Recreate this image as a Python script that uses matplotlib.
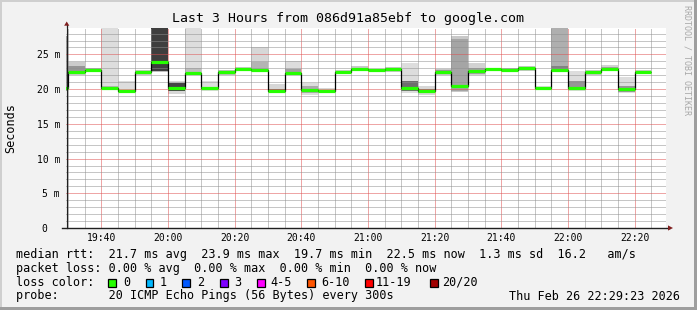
import numpy as np
import pandas as pd
import matplotlib
matplotlib.use("Agg")
import matplotlib.pyplot as plt
import matplotlib.dates as mdates
from matplotlib.ticker import MultipleLocator, FixedLocator
from matplotlib.patches import Rectangle, Polygon

# ---------------- data ----------------
title = "Last 3 Hours from 086d91a85ebf to google.com"
# bin end times (5 minute steps), first bin is only partly visible
bin_end_first = "2026-02-26 19:30"
n_bins = 36
median = [20.1, 22.5, 22.8, 20.2, 19.7, 22.4, 23.9, 20.2, 22.3, 20.1, 22.5, 22.9,
          22.8, 19.8, 22.3, 19.9, 19.8, 22.5, 22.9, 22.8, 22.9, 20.1, 19.8, 22.5,
          20.4, 22.6, 22.9, 22.8, 23.0, 20.1, 22.7, 20.2, 22.4, 22.9, 20.0, 22.5]
smoke_lo = [19.7, 22.1, 22.6, 19.9, 19.5, 22.0, 22.4, 19.3, 22.0, 19.8, 22.1, 22.7,
            22.5, 19.5, 22.0, 19.1, 19.5, 22.2, 22.6, 22.7, 22.5, 19.5, 19.2, 22.0,
            19.6, 22.0, 22.7, 22.7, 22.6, 19.9, 22.4, 19.8, 22.0, 22.6, 19.4, 22.2]
smoke_hi = [27.7, 23.9, 23.1, 28.8, 21.1, 22.8, 28.8, 21.1, 28.8, 21.2, 22.8, 23.2,
            26.0, 20.8, 24.0, 20.9, 20.2, 22.8, 23.3, 22.9, 23.2, 23.7, 20.4, 22.9,
            27.6, 23.8, 23.0, 23.0, 23.4, 20.5, 28.8, 22.6, 22.8, 23.5, 21.8, 22.8]
smoke_gray = [170, 204, 190, 221, 221, 200, 190, 215, 221, 221, 190, 200,
              215, 215, 221, 221, 215, 200, 200, 170, 200, 221, 215, 200,
              200, 210, 190, 190, 200, 221, 175, 221, 200, 210, 221, 200]
core_lo = [np.nan, 22.3, np.nan, 20.0, 19.6, 22.2, 22.6, 19.8, 22.1, 19.9, 22.3, 22.8,
           22.6, 19.6, 22.1, 19.5, 19.7, 22.4, 22.7, np.nan, 22.7, 19.7, 19.5, 22.2,
           19.8, 22.2, np.nan, np.nan, 22.8, np.nan, 22.5, 19.9, 22.2, 22.8, 19.6, 22.3]
core_hi = [np.nan, 23.3, np.nan, 20.4, 19.9, 22.6, 28.8, 20.9, 23.1, 20.3, 22.6, 23.0,
           23.9, 20.0, 22.9, 20.4, 19.9, 22.6, 23.0, np.nan, 23.0, 21.1, 20.0, 22.7,
           27.2, 23.1, np.nan, np.nan, 23.2, np.nan, 23.3, 21.2, 22.6, 23.2, 20.4, 22.6]
core_gray = [0, 150, 0, 180, 140, 150, 62, 70, 190, 170, 140, 150,
             180, 120, 160, 170, 170, 150, 150, 0, 150, 110, 130, 150,
             165, 160, 0, 0, 160, 0, 130, 150, 150, 160, 150, 150]
loss = [0] * n_bins

loss_labels = ["0", "1", "2", "3", "4-5", "6-10", "11-19", "20/20"]
loss_colors = ["#26ff00", "#00b8ff", "#0059ff", "#7e00ff", "#ff00ff", "#ff5500",
               "#ff0000", "#a10000"]

y_ticks = [0, 5, 10, 15, 20, 25]
y_ticklabels = ["0  ", "5 m", "10 m", "15 m", "20 m", "25 m"]

line1 = "median rtt:  21.7 ms avg  23.9 ms max  19.7 ms min  22.5 ms now  1.3 ms sd  16.2   am/s"
line2 = "packet loss: 0.00 % avg  0.00 % max  0.00 % min  0.00 % now"
line3 = "loss color:"
line4 = "probe:       20 ICMP Echo Pings (56 Bytes) every 300s"
stamp = "Thu Feb 26 22:29:23 2026"
t_start = "2026-02-26 19:29:23"
t_stop = "2026-02-26 22:29:23"

# ---------------- figure ----------------
W, H = 697, 310
MONO = "DejaVu Sans Mono"
fig = plt.figure(figsize=(W / 100, H / 100), dpi=100, facecolor="#f2f2f2")

# border shading
fig.add_artist(Rectangle((0, 1 - 2 / H), 1, 2 / H, transform=fig.transFigure,
                         facecolor="#cfcfcf", edgecolor="none"))
fig.add_artist(Rectangle((0, 0), 2 / W, 1, transform=fig.transFigure,
                         facecolor="#cfcfcf", edgecolor="none"))
fig.add_artist(Rectangle((0, 0), 1, 3 / H, transform=fig.transFigure,
                         facecolor="#9e9e9e", edgecolor="none"))
fig.add_artist(Rectangle((1 - 3 / W, 0), 3 / W, 1, transform=fig.transFigure,
                         facecolor="#9e9e9e", edgecolor="none"))

ax = fig.add_axes([66 / W, (H - 228) / H, 600 / W, 200 / H])
ax.set_facecolor("white")

ends = pd.date_range(bin_end_first, periods=n_bins, freq="5min")
starts = ends - pd.Timedelta(minutes=5)
s_num = mdates.date2num(starts.to_pydatetime())
e_num = mdates.date2num(ends.to_pydatetime())
width = e_num - s_num

def gray(v):
    return "#{0:02x}{0:02x}{0:02x}".format(int(v))

lo = np.array(smoke_lo); hi = np.array(smoke_hi)
ax.bar(s_num, hi - lo, bottom=lo, width=width, align="edge",
       color=[gray(g) for g in smoke_gray], linewidth=0, zorder=1)
clo = np.array(core_lo); chi = np.array(core_hi)
ok = ~np.isnan(clo)
ax.bar(s_num[ok], (chi - clo)[ok], bottom=clo[ok], width=width[ok], align="edge",
       color=[gray(g) for g, k in zip(core_gray, ok) if k], linewidth=0, zorder=1.1)

edges = np.append(s_num, e_num[-1])
ax.stairs(median, edges, baseline=None, color="black", linewidth=0.9, zorder=3)
ax.hlines(median, s_num, e_num, colors=[loss_colors[l] for l in loss],
          linewidth=2.3, zorder=4)

ax.set_xlim(mdates.date2num(pd.Timestamp(t_start).to_pydatetime()),
            mdates.date2num(pd.Timestamp(t_stop).to_pydatetime()))
ax.set_ylim(0, 28.8)

ax.xaxis.set_major_locator(mdates.MinuteLocator(byminute=[0, 20, 40]))
ax.xaxis.set_minor_locator(mdates.MinuteLocator(byminute=range(0, 60, 5)))
ax.xaxis.set_major_formatter(mdates.DateFormatter("%H:%M"))
ax.yaxis.set_major_locator(FixedLocator(y_ticks))
ax.set_yticklabels(y_ticklabels)
ax.yaxis.set_minor_locator(MultipleLocator(1))

ax.set_axisbelow(False)
ax.grid(which="minor", color=(0.56, 0.56, 0.56, 0.33), linestyle=(0, (1, 1)), linewidth=0.72)
ax.grid(which="major", color=(0.87, 0.31, 0.31, 0.5), linestyle=(0, (1, 1)), linewidth=0.72)

ax.tick_params(which="both", length=0)
ax.tick_params(axis="x", pad=3.5, labelsize=7)
ax.tick_params(axis="y", pad=4.3, labelsize=7)
for lab in ax.get_xticklabels() + ax.get_yticklabels():
    lab.set_fontfamily(MONO)
for sp in ax.spines.values():
    sp.set_visible(False)

# axes lines and arrows
AXC = "#1f1f1f"
ARC = "#801f1f"
ax.plot([0.0012, 0.0012], [0, 1 + 3 / 200], transform=ax.transAxes, color=AXC,
        linewidth=0.9, clip_on=False, zorder=5)
ax.plot([-4 / 600, 1 + 2.5 / 600], [0, 0], transform=ax.transAxes, color=AXC,
        linewidth=1.0, clip_on=False, zorder=5)
ax.add_patch(Polygon([(0.0012 - 2.6 / 600, 1 + 2.3 / 200), (0.0012 + 2.6 / 600, 1 + 2.3 / 200),
                      (0.0012, 1 + 6.5 / 200)], closed=True, transform=ax.transAxes,
                     facecolor=ARC, edgecolor="none", clip_on=False, zorder=6))
ax.add_patch(Polygon([(1 + 2 / 600, 2.6 / 200), (1 + 2 / 600, -2.6 / 200),
                      (1 + 7 / 600, 0)], closed=True, transform=ax.transAxes,
                     facecolor=ARC, edgecolor="none", clip_on=False, zorder=6))

# titles / labels
def ftext(x, y, s, **kw):
    kw.setdefault("family", MONO)
    kw.setdefault("va", "center")
    return fig.text(x / W, 1 - y / H, s, **kw)

ftext(348, 18.5, title, ha="center", fontsize=9.5)
ftext(10.5, 128, "Seconds", ha="center", rotation=90, fontsize=8.5)
ftext(687, 60, "RRDTOOL / TOBI OETIKER", ha="center", rotation=270, fontsize=6,
      color="#a8a8a8")

LEG = 8.5
ftext(16, 254.5, line1, ha="left", fontsize=LEG)
ftext(16, 268.3, line2, ha="left", fontsize=LEG)
ftext(16, 282, line3, ha="left", fontsize=LEG)
ftext(16, 296, line4, ha="left", fontsize=LEG)
ftext(680, 296, stamp, ha="right", fontsize=LEG)

sq_x = [108.3, 145.7, 182.3, 220.0, 257.3, 307.3, 365.0, 430.3]
lab_x = [123.0, 160.0, 197.0, 234.0, 270.0, 321.5, 376.0, 442.0]
for sx, lx, c, t in zip(sq_x, lab_x, loss_colors, loss_labels):
    fig.add_artist(Rectangle((sx / W, 1 - 286.5 / H), 7.7 / W, 7.5 / H,
                             transform=fig.transFigure, facecolor=c,
                             edgecolor="black", linewidth=0.9))
    ftext(lx, 282, t, ha="left", fontsize=LEG)

fig.savefig("out.png", dpi=100, facecolor=fig.get_facecolor())
